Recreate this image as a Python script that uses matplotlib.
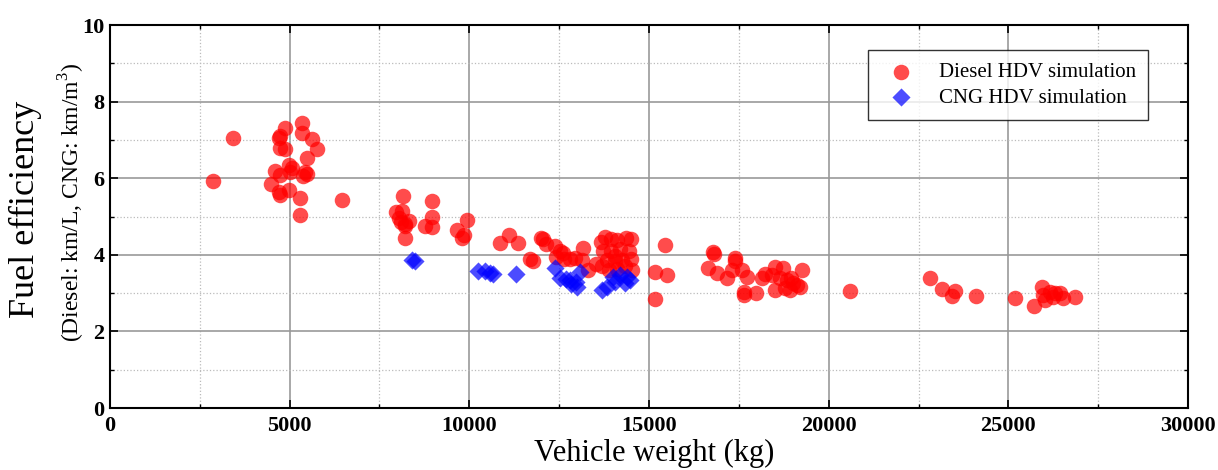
#!/usr/bin/env python3
"""
Fuel efficiency vs vehicle weight for simulated heavy-duty vehicles.
"""
import matplotlib
matplotlib.use("Agg")
import matplotlib.pyplot as plt
from matplotlib.ticker import MultipleLocator

plt.rcParams['font.family'] = ['Liberation Serif', 'DejaVu Serif']
plt.rcParams['mathtext.fontset'] = 'custom'
plt.rcParams['mathtext.rm'] = 'Liberation Serif'

# Diesel HDV simulation: vehicle weight (kg), fuel efficiency (km/L)
diesel_weight = [
    2870, 3420, 4480, 4590, 4700, 4720, 4740, 4870, 4880, 4710, 4730, 4980,
    4730, 4990, 5060, 5010, 5280, 5280, 5340, 5350, 5430, 5470, 5380, 5490,
    5620, 5750, 6470,
    7950, 8160, 8120, 8050, 8100, 8200, 8330, 8210, 8210, 8950, 8950, 8770,
    8960, 9930, 9650, 9850, 9800, 10850, 11090, 11360, 11690, 11780,
    11990, 12060, 12140, 12380, 12520, 12400, 12630, 12800, 12600, 12950,
    13170, 13130, 13310, 13520, 13660, 13770, 13940, 14120, 14360, 14500,
    13720, 13950, 14180, 14430, 13830, 14050, 14260, 14490, 13880, 14110,
    14330, 14530, 14050, 13700, 15170, 15170, 15450, 15510,
    16790, 16800, 16650, 16900, 17180, 17390, 17400, 17580, 17300, 17720,
    17630, 17630, 17980, 18140, 18230, 18420, 18510, 18740, 18650, 18830,
    18960, 19010, 19110, 19200, 18790, 18510, 18930, 19250,
    20590, 22820, 23150, 23420, 23520, 24090, 25190, 25720, 25930, 25970,
    26160, 26250, 26300, 26440, 26530, 26850, 26020,
]
diesel_eff = [
    5.93, 7.05, 5.86, 6.20, 7.05, 7.10, 6.80, 6.75, 7.30, 5.65, 5.56, 5.69,
    6.08, 6.34, 6.26, 6.16, 5.48, 5.03, 7.45, 7.18, 6.17, 6.11, 6.06, 6.52,
    7.03, 6.75, 5.42,
    5.13, 5.54, 5.15, 4.95, 4.85, 4.80, 4.88, 4.74, 4.45, 5.40, 5.00, 4.75,
    4.72, 4.91, 4.65, 4.52, 4.45, 4.32, 4.52, 4.32, 3.88, 3.84,
    4.44, 4.40, 4.28, 4.22, 4.10, 3.95, 3.90, 3.88, 4.05, 3.92,
    4.18, 3.86, 3.60, 3.76, 4.33, 4.46, 4.41, 4.39, 4.44, 4.41,
    4.10, 4.10, 4.15, 4.10, 3.86, 3.84, 3.86, 3.88, 3.60, 3.62,
    3.72, 3.60, 3.98, 3.70, 3.56, 2.84, 4.25, 3.48,
    4.08, 4.02, 3.65, 3.52, 3.39, 3.91, 3.85, 3.60, 3.60, 3.41,
    3.04, 2.95, 3.01, 3.39, 3.50, 3.47, 3.69, 3.65, 3.39, 3.35,
    3.39, 3.26, 3.22, 3.17, 3.13, 3.09, 3.09, 3.60,
    3.05, 3.40, 3.12, 2.93, 3.05, 2.92, 2.88, 2.67, 3.17, 2.95,
    3.04, 2.91, 3.00, 3.00, 2.87, 2.91, 2.82,
]

# CNG HDV simulation: vehicle weight (kg), fuel efficiency (km/m3)
cng_weight = [
    8400, 8480, 10250, 10440, 10580, 10670, 11300, 12380, 12520, 12700,
    12790, 12840, 12980, 13080, 12990, 13680, 13820, 14000, 14190, 14380,
    14470, 14330, 14050,
]
cng_eff = [
    3.87, 3.85, 3.58, 3.58, 3.53, 3.50, 3.50, 3.65, 3.40, 3.38,
    3.33, 3.25, 3.29, 3.55, 3.17, 3.08, 3.17, 3.43, 3.47, 3.43,
    3.34, 3.26, 3.30,
]


def create_chart():
    fig = plt.figure(figsize=(12.18, 4.70), dpi=100)
    ax = fig.add_axes([0.0903, 0.1319, 0.8851, 0.8149])

    ax.scatter(diesel_weight, diesel_eff, s=125, marker='o', color='#ff0000',
               alpha=0.7, linewidths=0, label='Diesel HDV simulation', zorder=3)
    ax.scatter(cng_weight, cng_eff, s=85, marker='D', color='#0000ff',
               alpha=0.7, linewidths=0, label='CNG HDV simulation', zorder=3)

    ax.set_xlim(0, 30000)
    ax.set_ylim(0, 10)
    ax.xaxis.set_major_locator(MultipleLocator(5000))
    ax.xaxis.set_minor_locator(MultipleLocator(2500))
    ax.yaxis.set_major_locator(MultipleLocator(2))
    ax.yaxis.set_minor_locator(MultipleLocator(1))

    ax.grid(True, which='major', color='#999999', linewidth=1.2, linestyle='-', zorder=0)
    ax.grid(True, which='minor', color='#bbbbbb', linewidth=0.9, linestyle=':', zorder=0)
    ax.set_axisbelow(True)

    ax.tick_params(which='both', direction='in', top=True, right=True,
                   labelsize=16)
    ax.tick_params(axis='x', pad=6)
    ax.tick_params(axis='y', pad=4)
    ax.tick_params(which='major', length=6, width=1.2)
    ax.tick_params(which='minor', length=3, width=1.0)
    for lab in ax.get_xticklabels() + ax.get_yticklabels():
        lab.set_fontweight('bold')
    for sp in ax.spines.values():
        sp.set_linewidth(1.5)

    # axis titles placed as figure text to sit like the original
    fig.text(0.537, 0.004, 'Vehicle weight (kg)', fontsize=22,
             ha='center', va='bottom')
    fig.text(0.021, 0.555, 'Fuel efficiency', rotation=90, fontsize=26,
             ha='center', va='center')
    fig.text(0.059, 0.57, '(Diesel: km/L, CNG: km/m$^{3}$)', rotation=90,
             fontsize=17, ha='center', va='center')

    leg = ax.legend(loc='upper right', bbox_to_anchor=(0.963, 0.935),
                    borderaxespad=0, fontsize=15, frameon=True, fancybox=False,
                    borderpad=0.6, handletextpad=0.8, labelspacing=0.3)
    leg.get_frame().set_edgecolor('black')
    leg.get_frame().set_linewidth(1.0)

    fig.savefig('out.png', dpi=100)


if __name__ == "__main__":
    create_chart()
